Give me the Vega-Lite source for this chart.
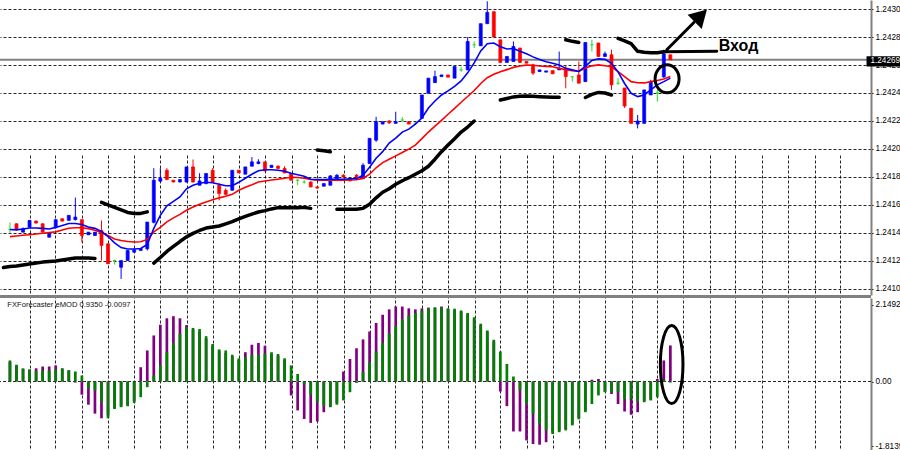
{
"$schema": "https://vega.github.io/schema/vega-lite/v6.json",
"width": 871, "height": 450,
"autosize": {"type": "none"},
"padding": {"left": 0, "top": 0, "right": 29, "bottom": 0},
"background": "#FFFFFF",
"data": {"values": [{}]},
"config": {
  "view": {"stroke": null},
  "axis": {"labelFont": "Liberation Sans", "labelFontSize": 8.2, "labelColor": "#000000", "tickSize": 2, "tickColor": "#000000", "labelPadding": 2, "domainColor": "#808080", "domainWidth": 2, "labelOverlap": false, "labelFlush": false},
  "axisX": {"labels": false, "ticks": false, "domain": false, "grid": true, "gridColor": "#000000", "gridDash": [3, 2], "gridOpacity": 0.85}
},
"datasets": {
"candles": [
{"i":0,"d":"doji","o":1.241475,"h":1.241526,"l":1.241447,"c":1.241475},
{"i":1,"d":"down","o":1.241516,"h":1.241518,"l":1.241468,"c":1.241473},
{"i":2,"d":"up","o":1.241456,"h":1.24149,"l":1.241454,"c":1.24148},
{"i":3,"d":"up","o":1.241492,"h":1.24154,"l":1.24149,"c":1.24154},
{"i":4,"d":"down","o":1.241535,"h":1.24154,"l":1.241518,"c":1.241521},
{"i":5,"d":"down","o":1.241516,"h":1.241518,"l":1.241454,"c":1.241456},
{"i":6,"d":"up","o":1.24142,"h":1.241454,"l":1.241418,"c":1.241449},
{"i":7,"d":"up","o":1.241488,"h":1.241547,"l":1.241483,"c":1.241545},
{"i":8,"d":"down","o":1.241552,"h":1.241554,"l":1.241533,"c":1.241535},
{"i":9,"d":"up","o":1.24154,"h":1.241576,"l":1.24154,"c":1.241576},
{"i":10,"d":"up","o":1.241545,"h":1.241703,"l":1.24154,"c":1.241564},
{"i":11,"d":"down","o":1.241545,"h":1.241547,"l":1.241384,"c":1.241432},
{"i":12,"d":"up","o":1.241437,"h":1.241456,"l":1.241437,"c":1.241456},
{"i":13,"d":"up","o":1.241432,"h":1.241456,"l":1.241432,"c":1.241456},
{"i":14,"d":"down","o":1.241468,"h":1.24154,"l":1.241253,"c":1.241361},
{"i":15,"d":"down","o":1.241373,"h":1.241375,"l":1.24123,"c":1.24123},
{"i":16,"d":"doji","o":1.241253,"h":1.24126,"l":1.241225,"c":1.241253},
{"i":17,"d":"up","o":1.241205,"h":1.241253,"l":1.241122,"c":1.241253},
{"i":18,"d":"up","o":1.241253,"h":1.241325,"l":1.241253,"c":1.241325},
{"i":19,"d":"up","o":1.241313,"h":1.241332,"l":1.241311,"c":1.24133},
{"i":20,"d":"up","o":1.241325,"h":1.241339,"l":1.241325,"c":1.241339},
{"i":21,"d":"up","o":1.241337,"h":1.241528,"l":1.241325,"c":1.241528},
{"i":22,"d":"up","o":1.241526,"h":1.241913,"l":1.241518,"c":1.241827},
{"i":23,"d":"up","o":1.24182,"h":1.241913,"l":1.241812,"c":1.241841},
{"i":24,"d":"down","o":1.241898,"h":1.241913,"l":1.241827,"c":1.241832},
{"i":25,"d":"down","o":1.241827,"h":1.241827,"l":1.241812,"c":1.241814},
{"i":26,"d":"up","o":1.241814,"h":1.241834,"l":1.241812,"c":1.241832},
{"i":27,"d":"up","o":1.241814,"h":1.241922,"l":1.241812,"c":1.241922},
{"i":28,"d":"down","o":1.241922,"h":1.241975,"l":1.241812,"c":1.241814},
{"i":29,"d":"up","o":1.241791,"h":1.241877,"l":1.241791,"c":1.241822},
{"i":30,"d":"up","o":1.241803,"h":1.241877,"l":1.241798,"c":1.241875},
{"i":31,"d":"down","o":1.241898,"h":1.241913,"l":1.241812,"c":1.241814},
{"i":32,"d":"down","o":1.241791,"h":1.241805,"l":1.241683,"c":1.241731},
{"i":33,"d":"down","o":1.241755,"h":1.241769,"l":1.241719,"c":1.241726},
{"i":34,"d":"up","o":1.241755,"h":1.241898,"l":1.241755,"c":1.241898},
{"i":35,"d":"down","o":1.241898,"h":1.241898,"l":1.241879,"c":1.241879},
{"i":36,"d":"up","o":1.24187,"h":1.241922,"l":1.24187,"c":1.241922},
{"i":37,"d":"up","o":1.241927,"h":1.241992,"l":1.241927,"c":1.241958},
{"i":38,"d":"up","o":1.241946,"h":1.241977,"l":1.241941,"c":1.241958},
{"i":39,"d":"down","o":1.241958,"h":1.241958,"l":1.241891,"c":1.241893},
{"i":40,"d":"up","o":1.241918,"h":1.241934,"l":1.241918,"c":1.241934},
{"i":41,"d":"down","o":1.241927,"h":1.241934,"l":1.241911,"c":1.241911},
{"i":42,"d":"down","o":1.241911,"h":1.241927,"l":1.241877,"c":1.241879},
{"i":43,"d":"down","o":1.241875,"h":1.241877,"l":1.241827,"c":1.241827},
{"i":44,"d":"doji","o":1.241827,"h":1.241834,"l":1.241791,"c":1.241827},
{"i":45,"d":"doji","o":1.241814,"h":1.241827,"l":1.241803,"c":1.241814},
{"i":46,"d":"down","o":1.241814,"h":1.24182,"l":1.241776,"c":1.241779},
{"i":47,"d":"down","o":1.241779,"h":1.241784,"l":1.241769,"c":1.241771},
{"i":48,"d":"up","o":1.241784,"h":1.241805,"l":1.241784,"c":1.241803},
{"i":49,"d":"up","o":1.241791,"h":1.241863,"l":1.241791,"c":1.241858},
{"i":50,"d":"up","o":1.241839,"h":1.24187,"l":1.241839,"c":1.241863},
{"i":51,"d":"down","o":1.241863,"h":1.24187,"l":1.241841,"c":1.24185},
{"i":52,"d":"down","o":1.241839,"h":1.241841,"l":1.24182,"c":1.241822},
{"i":53,"d":"down","o":1.241863,"h":1.24187,"l":1.241841,"c":1.241853},
{"i":54,"d":"up","o":1.241839,"h":1.241949,"l":1.241839,"c":1.241934},
{"i":55,"d":"up","o":1.241946,"h":1.242128,"l":1.241946,"c":1.242126},
{"i":56,"d":"up","o":1.242113,"h":1.24228,"l":1.242101,"c":1.242245},
{"i":57,"d":"up","o":1.242228,"h":1.242245,"l":1.242228,"c":1.242245},
{"i":58,"d":"down","o":1.24225,"h":1.242257,"l":1.242228,"c":1.242237},
{"i":59,"d":"up","o":1.242233,"h":1.242316,"l":1.242233,"c":1.242245},
{"i":60,"d":"doji","o":1.242257,"h":1.242278,"l":1.242242,"c":1.242257},
{"i":61,"d":"down","o":1.242245,"h":1.24225,"l":1.242228,"c":1.242228},
{"i":62,"d":"doji","o":1.242233,"h":1.242242,"l":1.242221,"c":1.242233},
{"i":63,"d":"up","o":1.242269,"h":1.242436,"l":1.242269,"c":1.242436},
{"i":64,"d":"up","o":1.242448,"h":1.242556,"l":1.242448,"c":1.242556},
{"i":65,"d":"up","o":1.242524,"h":1.24261,"l":1.242522,"c":1.242567},
{"i":66,"d":"up","o":1.242567,"h":1.242579,"l":1.242567,"c":1.242579},
{"i":67,"d":"down","o":1.242579,"h":1.242579,"l":1.242563,"c":1.242563},
{"i":68,"d":"up","o":1.242556,"h":1.242639,"l":1.242556,"c":1.242639},
{"i":69,"d":"doji","o":1.242615,"h":1.242637,"l":1.242601,"c":1.242615},
{"i":70,"d":"up","o":1.242615,"h":1.24285,"l":1.242615,"c":1.242818},
{"i":71,"d":"doji","o":1.242794,"h":1.242818,"l":1.242771,"c":1.242794},
{"i":72,"d":"up","o":1.242787,"h":1.242945,"l":1.242787,"c":1.242945},
{"i":73,"d":"up","o":1.242945,"h":1.243105,"l":1.242945,"c":1.243026},
{"i":74,"d":"down","o":1.243031,"h":1.243031,"l":1.24285,"c":1.24285},
{"i":75,"d":"down","o":1.24283,"h":1.24283,"l":1.242668,"c":1.242668},
{"i":76,"d":"up","o":1.242668,"h":1.242711,"l":1.242668,"c":1.242711},
{"i":77,"d":"up","o":1.242675,"h":1.242818,"l":1.242675,"c":1.242782},
{"i":78,"d":"down","o":1.242771,"h":1.242773,"l":1.242668,"c":1.242668},
{"i":79,"d":"down","o":1.242675,"h":1.242675,"l":1.242663,"c":1.242663},
{"i":80,"d":"down","o":1.242651,"h":1.242658,"l":1.242579,"c":1.242592},
{"i":81,"d":"up","o":1.242603,"h":1.242615,"l":1.242601,"c":1.242615},
{"i":82,"d":"up","o":1.242599,"h":1.242608,"l":1.242599,"c":1.242608},
{"i":83,"d":"down","o":1.24261,"h":1.24261,"l":1.242587,"c":1.242587},
{"i":84,"d":"up","o":1.242615,"h":1.242746,"l":1.242615,"c":1.242627},
{"i":85,"d":"down","o":1.242627,"h":1.242644,"l":1.242484,"c":1.242567},
{"i":86,"d":"doji","o":1.242567,"h":1.242567,"l":1.242531,"c":1.242567},
{"i":87,"d":"down","o":1.242579,"h":1.242675,"l":1.24252,"c":1.24252},
{"i":88,"d":"up","o":1.242531,"h":1.242811,"l":1.242531,"c":1.242811},
{"i":89,"d":"doji","o":1.242794,"h":1.24283,"l":1.242746,"c":1.242794},
{"i":90,"d":"down","o":1.242807,"h":1.242809,"l":1.242708,"c":1.242711},
{"i":91,"d":"up","o":1.242711,"h":1.242746,"l":1.242708,"c":1.24273},
{"i":92,"d":"down","o":1.242723,"h":1.242759,"l":1.242472,"c":1.242508},
{"i":93,"d":"doji","o":1.24252,"h":1.242556,"l":1.242508,"c":1.24252},
{"i":94,"d":"down","o":1.242486,"h":1.242486,"l":1.242343,"c":1.242357},
{"i":95,"d":"down","o":1.242341,"h":1.242341,"l":1.242233,"c":1.242233},
{"i":96,"d":"up","o":1.242228,"h":1.242293,"l":1.242197,"c":1.24225},
{"i":97,"d":"up","o":1.242233,"h":1.242472,"l":1.242233,"c":1.242472},
{"i":98,"d":"up","o":1.242436,"h":1.242544,"l":1.242436,"c":1.242531},
{"i":99,"d":"doji","o":1.24245,"h":1.242472,"l":1.242388,"c":1.24245},
{"i":100,"d":"up","o":1.242565,"h":1.242759,"l":1.242558,"c":1.24273},
{"i":101,"d":"down","o":1.242723,"h":1.242723,"l":1.242687,"c":1.242687}
],
"ma": [
{"i":0,"fast":1.241475,"slow":1.241424},{"i":1,"fast":1.241472,"slow":1.241429},{"i":2,"fast":1.241479,"slow":1.241434},{"i":3,"fast":1.241486,"slow":1.241438},{"i":4,"fast":1.241486,"slow":1.241443},{"i":5,"fast":1.241483,"slow":1.241448},{"i":6,"fast":1.241479,"slow":1.241453},{"i":7,"fast":1.24149,"slow":1.241458},{"i":8,"fast":1.241504,"slow":1.241471},{"i":9,"fast":1.241518,"slow":1.241484},
{"i":10,"fast":1.241518,"slow":1.241488},{"i":11,"fast":1.241511,"slow":1.241488},{"i":12,"fast":1.241493,"slow":1.241481},{"i":13,"fast":1.241483,"slow":1.24147},{"i":14,"fast":1.241461,"slow":1.241452},{"i":15,"fast":1.241425,"slow":1.241432},{"i":16,"fast":1.241379,"slow":1.241407},{"i":17,"fast":1.241346,"slow":1.241396},{"i":18,"fast":1.241336,"slow":1.241389},{"i":19,"fast":1.241336,"slow":1.241386},
{"i":20,"fast":1.241339,"slow":1.241387},{"i":21,"fast":1.241368,"slow":1.241404},{"i":22,"fast":1.241483,"slow":1.241458},{"i":23,"fast":1.241576,"slow":1.24149},{"i":24,"fast":1.241644,"slow":1.241529},{"i":25,"fast":1.241676,"slow":1.241558},{"i":26,"fast":1.241708,"slow":1.241583},{"i":27,"fast":1.241766,"slow":1.241612},{"i":28,"fast":1.241791,"slow":1.241636},{"i":29,"fast":1.241805,"slow":1.241655},
{"i":30,"fast":1.241812,"slow":1.241672},{"i":31,"fast":1.241809,"slow":1.241687},{"i":32,"fast":1.241798,"slow":1.241701},{"i":33,"fast":1.241787,"slow":1.241712},{"i":34,"fast":1.241787,"slow":1.241726},{"i":35,"fast":1.241812,"slow":1.241755},{"i":36,"fast":1.241841,"slow":1.241776},{"i":37,"fast":1.24187,"slow":1.241794},{"i":38,"fast":1.241895,"slow":1.241814},{"i":39,"fast":1.241902,"slow":1.241821},
{"i":40,"fast":1.241902,"slow":1.241828},{"i":41,"fast":1.241898,"slow":1.241834},{"i":42,"fast":1.241891,"slow":1.241841},{"i":43,"fast":1.241877,"slow":1.241848},{"i":44,"fast":1.241866,"slow":1.241846},{"i":45,"fast":1.241855,"slow":1.241841},{"i":46,"fast":1.241834,"slow":1.241832},{"i":47,"fast":1.241832,"slow":1.241827},{"i":48,"fast":1.241832,"slow":1.241827},{"i":49,"fast":1.241834,"slow":1.241827},
{"i":50,"fast":1.241834,"slow":1.241827},{"i":51,"fast":1.241834,"slow":1.241828},{"i":52,"fast":1.241837,"slow":1.241829},{"i":53,"fast":1.241837,"slow":1.24183},{"i":54,"fast":1.241863,"slow":1.24184},{"i":55,"fast":1.24192,"slow":1.24187},{"i":56,"fast":1.241984,"slow":1.241916},{"i":57,"fast":1.242031,"slow":1.241953},{"i":58,"fast":1.242092,"slow":1.241977},{"i":59,"fast":1.242128,"slow":1.242001},
{"i":60,"fast":1.242171,"slow":1.242025},{"i":61,"fast":1.242192,"slow":1.242049},{"i":62,"fast":1.242228,"slow":1.242078},{"i":63,"fast":1.242271,"slow":1.242124},{"i":64,"fast":1.242343,"slow":1.242171},{"i":65,"fast":1.242393,"slow":1.242214},{"i":66,"fast":1.242436,"slow":1.242255},{"i":67,"fast":1.242465,"slow":1.242298},{"i":68,"fast":1.242497,"slow":1.24234},{"i":69,"fast":1.242536,"slow":1.242384},
{"i":70,"fast":1.242594,"slow":1.242425},{"i":71,"fast":1.242665,"slow":1.242468},{"i":72,"fast":1.242751,"slow":1.242518},{"i":73,"fast":1.242802,"slow":1.242559},{"i":74,"fast":1.242807,"slow":1.242584},{"i":75,"fast":1.24278,"slow":1.242602},{"i":76,"fast":1.242764,"slow":1.242617},{"i":77,"fast":1.242768,"slow":1.242633},{"i":78,"fast":1.242749,"slow":1.242643},{"i":79,"fast":1.24273,"slow":1.242649},
{"i":80,"fast":1.242708,"slow":1.242648},{"i":81,"fast":1.24269,"slow":1.242643},{"i":82,"fast":1.242673,"slow":1.24264},{"i":83,"fast":1.242662,"slow":1.242637},{"i":84,"fast":1.24265,"slow":1.242626},{"i":85,"fast":1.242626,"slow":1.242616},{"i":86,"fast":1.242615,"slow":1.242609},{"i":87,"fast":1.242604,"slow":1.242604},{"i":88,"fast":1.24264,"slow":1.242628},{"i":89,"fast":1.242683,"slow":1.242644},
{"i":90,"fast":1.242694,"slow":1.242651},{"i":91,"fast":1.24269,"slow":1.242645},{"i":92,"fast":1.242662,"slow":1.242637},{"i":93,"fast":1.242601,"slow":1.242602},{"i":94,"fast":1.242518,"slow":1.242567},{"i":95,"fast":1.242448,"slow":1.242531},{"i":96,"fast":1.242424,"slow":1.242523},{"i":97,"fast":1.242436,"slow":1.242522},{"i":98,"fast":1.242472,"slow":1.242531},{"i":99,"fast":1.242508,"slow":1.242539},
{"i":100,"fast":1.242531,"slow":1.24255},{"i":101,"fast":1.242556,"slow":1.242567}
],
"bands": [
{"seg":"A","i":-1,"v":1.241203},{"seg":"A","i":0,"v":1.24121},{"seg":"A","i":1,"v":1.241214},{"seg":"A","i":2,"v":1.241221},{"seg":"A","i":3,"v":1.241228},{"seg":"A","i":4,"v":1.241235},{"seg":"A","i":5,"v":1.241242},{"seg":"A","i":6,"v":1.241246},{"seg":"A","i":7,"v":1.24125},{"seg":"A","i":8,"v":1.241257},{"seg":"A","i":9,"v":1.241264},{"seg":"A","i":10,"v":1.241271},{"seg":"A","i":11,"v":1.241271},{"seg":"A","i":12,"v":1.241271},{"seg":"A","i":13,"v":1.241268},
{"seg":"B","i":14,"v":1.241669},{"seg":"B","i":15,"v":1.241651},{"seg":"B","i":16,"v":1.241633},{"seg":"B","i":17,"v":1.241615},{"seg":"B","i":18,"v":1.241597},{"seg":"B","i":19,"v":1.24159},{"seg":"B","i":20,"v":1.24159},{"seg":"B","i":21,"v":1.241601},
{"seg":"C","i":22,"v":1.241235},{"seg":"C","i":23,"v":1.241275},{"seg":"C","i":24,"v":1.241318},{"seg":"C","i":25,"v":1.241354},{"seg":"C","i":26,"v":1.241389},{"seg":"C","i":27,"v":1.241422},{"seg":"C","i":28,"v":1.241447},{"seg":"C","i":29,"v":1.241468},{"seg":"C","i":30,"v":1.241485},{"seg":"C","i":31,"v":1.241493},{"seg":"C","i":32,"v":1.2415},{"seg":"C","i":33,"v":1.241515},{"seg":"C","i":34,"v":1.241531},{"seg":"C","i":35,"v":1.241551},{"seg":"C","i":36,"v":1.241569},{"seg":"C","i":37,"v":1.241585},{"seg":"C","i":38,"v":1.2416},{"seg":"C","i":39,"v":1.24161},{"seg":"C","i":40,"v":1.241622},{"seg":"C","i":41,"v":1.241631},{"seg":"C","i":42,"v":1.241631},{"seg":"C","i":43,"v":1.241631},{"seg":"C","i":44,"v":1.241631},{"seg":"C","i":45,"v":1.241633},{"seg":"C","i":46,"v":1.241626},
{"seg":"D","i":47,"v":1.242042},{"seg":"D","i":48,"v":1.242038},{"seg":"D","i":49,"v":1.242031},
{"seg":"E","i":50,"v":1.241619},{"seg":"E","i":51,"v":1.241619},{"seg":"E","i":52,"v":1.241619},{"seg":"E","i":53,"v":1.241619},{"seg":"E","i":54,"v":1.241626},{"seg":"E","i":55,"v":1.241655},{"seg":"E","i":56,"v":1.241701},{"seg":"E","i":57,"v":1.241741},{"seg":"E","i":58,"v":1.241766},{"seg":"E","i":59,"v":1.241798},{"seg":"E","i":60,"v":1.241823},{"seg":"E","i":61,"v":1.241845},{"seg":"E","i":62,"v":1.24187},{"seg":"E","i":63,"v":1.241895},{"seg":"E","i":64,"v":1.241927},{"seg":"E","i":65,"v":1.241977},{"seg":"E","i":66,"v":1.242031},{"seg":"E","i":67,"v":1.242078},{"seg":"E","i":68,"v":1.242124},{"seg":"E","i":69,"v":1.242171},{"seg":"E","i":70,"v":1.242207},{"seg":"E","i":71,"v":1.24225},
{"seg":"G","i":75,"v":1.2424},{"seg":"G","i":76,"v":1.242411},{"seg":"G","i":77,"v":1.242422},{"seg":"G","i":78,"v":1.242427},{"seg":"G","i":79,"v":1.242429},{"seg":"G","i":80,"v":1.242427},{"seg":"G","i":81,"v":1.242424},{"seg":"G","i":82,"v":1.242422},{"seg":"G","i":83,"v":1.24242},{"seg":"G","i":84,"v":1.24242},
{"seg":"F","i":85,"v":1.24283},{"seg":"F","i":86,"v":1.242819},{"seg":"F","i":87,"v":1.242811},
{"seg":"H","i":88,"v":1.242418},{"seg":"H","i":89,"v":1.24244},{"seg":"H","i":90,"v":1.242454},{"seg":"H","i":91,"v":1.24245},{"seg":"H","i":92,"v":1.242436},
{"seg":"I","i":93,"v":1.242841},{"seg":"I","i":94,"v":1.242823},{"seg":"I","i":95,"v":1.242802},{"seg":"I","i":96,"v":1.242748},{"seg":"I","i":97,"v":1.242741},{"seg":"I","i":98,"v":1.242737},{"seg":"I","i":99,"v":1.242737},{"seg":"I","i":100,"v":1.242744}
],
"osc": [
{"i":0,"main":0.55,"signal":0.59},{"i":1,"main":0.45,"signal":0.47},{"i":2,"main":0.35,"signal":0.37},{"i":3,"main":0.33,"signal":0.34},{"i":4,"main":0.37,"signal":0.30},{"i":5,"main":0.42,"signal":0.30},{"i":6,"main":0.42,"signal":0.31},{"i":7,"main":0.45,"signal":0.34},{"i":8,"main":0.36,"signal":0.37},{"i":9,"main":0.30,"signal":0.32},
{"i":10,"main":-0.03,"signal":0.28},{"i":11,"main":-0.37,"signal":0.17},{"i":12,"main":-0.65,"signal":-0.19},{"i":13,"main":-0.90,"signal":-0.25},{"i":14,"main":-1.03,"signal":-0.58},{"i":15,"main":-0.95,"signal":-1.03},{"i":16,"main":-0.75,"signal":-0.77},{"i":17,"main":-0.70,"signal":-0.72},{"i":18,"main":-0.66,"signal":-0.69},{"i":19,"main":-0.55,"signal":-0.60},
{"i":20,"main":0.40,"signal":-0.44},{"i":21,"main":0.87,"signal":-0.16},{"i":22,"main":1.29,"signal":0.17},{"i":23,"main":1.59,"signal":0.45},{"i":24,"main":1.77,"signal":0.82},{"i":25,"main":1.83,"signal":1.08},{"i":26,"main":1.77,"signal":1.33},{"i":27,"main":1.58,"signal":1.52},{"i":28,"main":1.45,"signal":1.50},{"i":29,"main":1.40,"signal":1.47},
{"i":30,"main":1.20,"signal":1.27},{"i":31,"main":1.00,"signal":1.05},{"i":32,"main":0.85,"signal":0.90},{"i":33,"main":0.80,"signal":0.87},{"i":34,"main":0.70,"signal":0.75},{"i":35,"main":0.60,"signal":0.65},{"i":36,"main":0.82,"signal":0.68},{"i":37,"main":1.03,"signal":0.75},{"i":38,"main":1.08,"signal":0.75},{"i":39,"main":1.00,"signal":0.78},
{"i":40,"main":0.78,"signal":0.82},{"i":41,"main":0.72,"signal":0.77},{"i":42,"main":0.60,"signal":0.65},{"i":43,"main":-0.39,"signal":0.45},{"i":44,"main":-0.81,"signal":0.21},{"i":45,"main":-1.05,"signal":-0.09},{"i":46,"main":-1.16,"signal":-0.37},{"i":47,"main":-1.12,"signal":-0.58},{"i":48,"main":-0.86,"signal":-0.69},{"i":49,"main":-0.70,"signal":-0.72},
{"i":50,"main":-0.60,"signal":-0.65},{"i":51,"main":0.28,"signal":-0.53},{"i":52,"main":0.63,"signal":-0.30},{"i":53,"main":0.93,"signal":-0.04},{"i":54,"main":1.18,"signal":0.26},{"i":55,"main":1.40,"signal":0.54},{"i":56,"main":1.64,"signal":0.84},{"i":57,"main":1.87,"signal":1.08},{"i":58,"main":2.02,"signal":1.34},{"i":59,"main":2.10,"signal":1.55},
{"i":60,"main":2.10,"signal":1.74},{"i":61,"main":2.05,"signal":1.85},{"i":62,"main":2.02,"signal":1.92},{"i":63,"main":2.05,"signal":1.99},{"i":64,"main":2.07,"signal":2.05},{"i":65,"main":2.06,"signal":2.08},{"i":66,"main":2.10,"signal":2.07},{"i":67,"main":2.03,"signal":2.05},{"i":68,"main":2.00,"signal":2.04},{"i":69,"main":1.96,"signal":1.99},
{"i":70,"main":1.88,"signal":1.92},{"i":71,"main":1.76,"signal":1.80},{"i":72,"main":1.58,"signal":1.62},{"i":73,"main":1.40,"signal":1.43},{"i":74,"main":1.12,"signal":1.17},{"i":75,"main":-0.28,"signal":0.84},{"i":76,"main":-0.69,"signal":0.49},{"i":77,"main":-1.40,"signal":0.14},{"i":78,"main":-1.40,"signal":-0.25},{"i":79,"main":-1.65,"signal":-0.63},
{"i":80,"main":-1.75,"signal":-0.91},{"i":81,"main":-1.77,"signal":-1.19},{"i":82,"main":-1.70,"signal":-1.37},{"i":83,"main":-1.43,"signal":-1.47},{"i":84,"main":-1.38,"signal":-1.42},{"i":85,"main":-1.33,"signal":-1.37},{"i":86,"main":-1.20,"signal":-1.23},{"i":87,"main":-1.02,"signal":-1.06},{"i":88,"main":-0.82,"signal":-0.86},{"i":89,"main":0.05,"signal":-0.63},
{"i":90,"main":0.07,"signal":-0.39},{"i":91,"main":-0.28,"signal":-0.30},{"i":92,"main":-0.35,"signal":-0.30},{"i":93,"main":-0.63,"signal":-0.30},{"i":94,"main":-0.84,"signal":-0.49},{"i":95,"main":-0.93,"signal":-0.49},{"i":96,"main":-0.86,"signal":-0.56},{"i":97,"main":-0.55,"signal":-0.58},{"i":98,"main":-0.50,"signal":-0.53},{"i":99,"main":0.07,"signal":-0.44},
{"i":100,"main":0.59,"signal":0.04},{"i":101,"main":1.01,"signal":-0.03}
]
},
"layer": [
{
"layer": [
{"mark": {"type": "rule", "color": "#808080", "strokeWidth": 3},
 "encoding": {"y": {"datum": 1.2409964, "type": "quantitative", "scale": {"domain": [1.2410071, 1.2431143], "range": [295, 0], "nice": false, "zero": false}, "axis": {"orient": "right", "values": [1.24105,1.24125,1.24145,1.24165,1.24185,1.24205,1.24225,1.24245,1.24265,1.24285,1.24305], "tickCount": 200, "format": ".5f", "grid": true, "gridColor": "#000000", "gridDash": [3, 2], "gridOpacity": 0.85, "title": null}}}},
{"mark": {"type": "rule", "color": "#808080", "strokeWidth": 2},
 "encoding": {"y": {"datum": 1.242687, "type": "quantitative", "scale": {"domain": [1.2410071, 1.2431143], "range": [295, 0], "nice": false, "zero": false}}}},
{"data": {"name": "candles"}, "mark": {"type": "rule", "strokeWidth": 1},
 "encoding": {
  "x": {"field": "i", "type": "quantitative", "scale": {"domain": [-0.756, 130.92], "nice": false, "zero": false}, "axis": {"values": [3.0235,6.954,11.036,14.966,19.048,22.978,27.059,30.99,35.072,39.002,43.084,47.014,51.096,55.026,58.957,63.039,66.969,71.051,74.981,79.063,82.993,87.075,91.006,95.087,99.017,102.948,107.03,110.96,115.042,118.972,123.054,126.984], "tickCount": 200, "title": null}},
  "y": {"field": "l", "type": "quantitative", "scale": {"domain": [1.2410071, 1.2431143], "range": [295, 0], "nice": false, "zero": false}},
  "y2": {"field": "h"},
  "color": {"field": "d", "type": "nominal", "scale": {"domain": ["up", "down", "doji"], "range": ["#0000FF", "#FF0000", "#22DD22"]}, "legend": null}}},
{"data": {"name": "candles"}, "mark": {"type": "bar", "size": 3, "strokeWidth": 0.7},
 "encoding": {
  "x": {"field": "i", "type": "quantitative", "scale": {"domain": [-0.756, 130.92], "nice": false, "zero": false}},
  "y": {"field": "o", "type": "quantitative", "scale": {"domain": [1.2410071, 1.2431143], "range": [295, 0], "nice": false, "zero": false}},
  "y2": {"field": "c"},
  "color": {"field": "d", "type": "nominal", "scale": {"domain": ["up", "down", "doji"], "range": ["#0000FF", "#FF0000", "#22DD22"]}, "legend": null},
  "stroke": {"field": "d", "type": "nominal", "scale": {"domain": ["up", "down", "doji"], "range": ["#0000FF", "#FF0000", "#22DD22"]}, "legend": null}}},
{"data": {"name": "ma"}, "mark": {"type": "line", "color": "#FF0000", "strokeWidth": 1.6, "clip": true},
 "encoding": {
  "x": {"field": "i", "type": "quantitative", "scale": {"domain": [-0.756, 130.92], "nice": false, "zero": false}},
  "y": {"field": "slow", "type": "quantitative", "scale": {"domain": [1.2410071, 1.2431143], "range": [295, 0], "nice": false, "zero": false}}}},
{"data": {"name": "ma"}, "mark": {"type": "line", "color": "#0000FF", "strokeWidth": 1.6, "clip": true},
 "encoding": {
  "x": {"field": "i", "type": "quantitative", "scale": {"domain": [-0.756, 130.92], "nice": false, "zero": false}},
  "y": {"field": "fast", "type": "quantitative", "scale": {"domain": [1.2410071, 1.2431143], "range": [295, 0], "nice": false, "zero": false}}}},
{"data": {"name": "bands"}, "mark": {"type": "line", "color": "#000000", "strokeWidth": 3.5, "strokeCap": "round", "strokeJoin": "round", "clip": true},
 "encoding": {
  "x": {"field": "i", "type": "quantitative", "scale": {"domain": [-0.756, 130.92], "nice": false, "zero": false}},
  "y": {"field": "v", "type": "quantitative", "scale": {"domain": [1.2410071, 1.2431143], "range": [295, 0], "nice": false, "zero": false}},
  "detail": {"field": "seg", "type": "nominal"}}},
{"mark": {"type": "rule", "color": "#000000", "strokeWidth": 3, "strokeCap": "round"},
 "encoding": {
  "x": {"datum": 100, "type": "quantitative", "scale": {"domain": [-0.756, 130.92], "nice": false, "zero": false}},
  "x2": {"datum": 108.1},
  "y": {"datum": 1.242744, "type": "quantitative", "scale": {"domain": [1.2410071, 1.2431143], "range": [295, 0], "nice": false, "zero": false}},
  "y2": {"datum": 1.242749}}},
{"mark": {"type": "rule", "color": "#000000", "strokeWidth": 3, "strokeCap": "round"},
 "encoding": {
  "x": {"datum": 100.45, "type": "quantitative", "scale": {"domain": [-0.756, 130.92], "nice": false, "zero": false}},
  "x2": {"datum": 104.6},
  "y": {"datum": 1.242759, "type": "quantitative", "scale": {"domain": [1.2410071, 1.2431143], "range": [295, 0], "nice": false, "zero": false}},
  "y2": {"datum": 1.242954}}},
{"mark": {"type": "point", "shape": "triangle-up", "angle": 45, "size": 400, "filled": true, "color": "#000000", "opacity": 1},
 "encoding": {
  "x": {"datum": 105.65, "type": "quantitative", "scale": {"domain": [-0.756, 130.92], "nice": false, "zero": false}},
  "y": {"datum": 1.243002, "type": "quantitative", "scale": {"domain": [1.2410071, 1.2431143], "range": [295, 0], "nice": false, "zero": false}}}},
{"mark": {"type": "point", "shape": "M0,-1C0.473,-1,0.857,-0.552,0.857,0C0.857,0.552,0.473,1,0,1C-0.473,1,-0.857,0.552,-0.857,0C-0.857,-0.552,-0.473,-1,0,-1Z", "size": 784, "filled": false, "stroke": "#000000", "strokeWidth": 3, "opacity": 1},
 "encoding": {
  "x": {"datum": 100.5, "type": "quantitative", "scale": {"domain": [-0.756, 130.92], "nice": false, "zero": false}},
  "y": {"datum": 1.242551, "type": "quantitative", "scale": {"domain": [1.2410071, 1.2431143], "range": [295, 0], "nice": false, "zero": false}}}},
{"mark": {"type": "text", "text": "Вход", "font": "Liberation Sans", "fontSize": 16, "fontWeight": "bold", "color": "#000000", "align": "left", "baseline": "alphabetic"},
 "encoding": {
  "x": {"datum": 108.4, "type": "quantitative", "scale": {"domain": [-0.756, 130.92], "nice": false, "zero": false}},
  "y": {"datum": 1.242752, "type": "quantitative", "scale": {"domain": [1.2410071, 1.2431143], "range": [295, 0], "nice": false, "zero": false}}}},
{"mark": {"type": "rect", "color": "#000000", "clip": false},
 "encoding": {
  "x": {"datum": 131, "type": "quantitative", "scale": {"domain": [-0.756, 130.92], "nice": false, "zero": false}},
  "x2": {"datum": 137},
  "y": {"datum": 1.242712, "type": "quantitative", "scale": {"domain": [1.2410071, 1.2431143], "range": [295, 0], "nice": false, "zero": false}},
  "y2": {"datum": 1.24264}}},
{"mark": {"type": "text", "text": "1.24269", "font": "Liberation Sans", "fontSize": 8.2, "color": "#FFFFFF", "align": "left", "baseline": "middle", "clip": false},
 "encoding": {
  "x": {"datum": 131.6, "type": "quantitative", "scale": {"domain": [-0.756, 130.92], "nice": false, "zero": false}},
  "y": {"datum": 1.24268, "type": "quantitative", "scale": {"domain": [1.2410071, 1.2431143], "range": [295, 0], "nice": false, "zero": false}}}}
]
},
{
"layer": [
{"mark": {"type": "rule", "color": "#000000", "strokeWidth": 1, "strokeDash": [3, 2], "opacity": 0.85},
 "encoding": {"y": {"datum": 0, "type": "quantitative", "scale": {"domain": [-1.9187, 2.339], "range": [450, 298], "nice": false, "zero": false}, "axis": {"orient": "right", "values": [2.1492, 0, -1.8139], "tickCount": 200, "labelExpr": "datum.value > 1 ? '2.1492' : (datum.value < -1 ? '-1.8139' : '0.00')", "grid": false, "title": null}}}},
{"data": {"name": "osc"}, "mark": {"type": "bar", "size": 2.7, "color": "#800080"},
 "encoding": {
  "x": {"field": "i", "type": "quantitative", "scale": {"domain": [-0.756, 130.92], "nice": false, "zero": false}},
  "y": {"field": "main", "type": "quantitative", "scale": {"domain": [-1.9187, 2.339], "range": [450, 298], "nice": false, "zero": false}},
  "y2": {"datum": 0}}},
{"data": {"name": "osc"}, "mark": {"type": "bar", "size": 2.7, "color": "#008000"},
 "encoding": {
  "x": {"field": "i", "type": "quantitative", "scale": {"domain": [-0.756, 130.92], "nice": false, "zero": false}},
  "y": {"field": "signal", "type": "quantitative", "scale": {"domain": [-1.9187, 2.339], "range": [450, 298], "nice": false, "zero": false}},
  "y2": {"datum": 0}}},
{"mark": {"type": "point", "shape": "M0,-1C0.16,-1,0.29,-0.552,0.29,0C0.29,0.552,0.16,1,0,1C-0.16,1,-0.29,0.552,-0.29,0C-0.29,-0.552,-0.16,-1,0,-1Z", "size": 6084, "filled": false, "stroke": "#000000", "strokeWidth": 3, "opacity": 1},
 "encoding": {
  "x": {"datum": 101.2, "type": "quantitative", "scale": {"domain": [-0.756, 130.92], "nice": false, "zero": false}},
  "y": {"datum": 0.476, "type": "quantitative", "scale": {"domain": [-1.9187, 2.339], "range": [450, 298], "nice": false, "zero": false}}}},
{"mark": {"type": "text", "text": "FXForecaster eMOD 0.9350 -0.0097", "font": "Liberation Sans", "fontSize": 7.6, "color": "#111111", "align": "left", "baseline": "middle"},
 "encoding": {
  "x": {"datum": -0.4, "type": "quantitative", "scale": {"domain": [-0.756, 130.92], "nice": false, "zero": false}},
  "y": {"datum": 2.13, "type": "quantitative", "scale": {"domain": [-1.9187, 2.339], "range": [450, 298], "nice": false, "zero": false}}}}
]
}
],
"resolve": {"scale": {"y": "independent"}, "axis": {"y": "independent"}}
}
